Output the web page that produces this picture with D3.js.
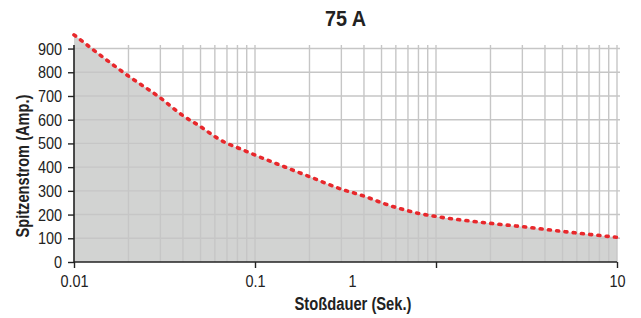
<!DOCTYPE html>
<html>
<head>
<meta charset="utf-8">
<script src="https://cdn.jsdelivr.net/npm/d3@7"></script>
<style>
  body { margin: 0; background: #fff; }
  svg { display: block; }
  text { font-family: "Liberation Sans", Arial, sans-serif; fill: #222; }
  .tick text { font-size: 17px; }
  .axis-title { font-size: 18px; font-weight: bold; }
  .title { font-size: 22px; font-weight: bold; }
</style>
</head>
<body>
<svg id="chart"></svg>
<script>
// pulse duration in seconds and peak current in amps
const duration = [0.01, 0.02, 0.03, 0.04, 0.05, 0.06, 0.07, 0.08, 0.1, 0.2, 0.3, 0.4, 0.5, 0.6, 0.7, 0.8, 1, 2, 3, 5, 10];
const peakCurrent = [958, 784, 692, 617, 571, 529, 500, 482, 451, 360, 307, 278, 250, 230, 216, 205, 192, 163, 149, 129, 104];

const yTicks = [0, 100, 200, 300, 400, 500, 600, 700, 800, 900];
const xTicks = [0.01, 0.1, 1, 10];
const xTickLabels = ["0.01", "0.1", "1", "10"];

const title = "75 A";
const xTitle = "Stoßdauer (Sek.)";
const yTitle = "Spitzenstrom (Amp.)";

const width = 641, height = 318;
const margin = { top: 45, right: 24, bottom: 56, left: 74 };

const svg = d3.select('#chart')
  .attr('width', width)
  .attr('height', height);

const x = d3.scaleLog()
  .domain([0.01, 10])
  .range([margin.left, width - margin.right]);

// top of the domain a little over 900 so the grid pokes above the last line
const y = d3.scaleLinear()
  .domain([0, 915])
  .range([height - margin.bottom, margin.top]);

const points = duration.map((d, i) => ({ x: d, y: peakCurrent[i] }));

// squeeze text horizontally to mimic a condensed face
const condense = (sel, k) => sel.each(function () {
  const w = this.getComputedTextLength();
  d3.select(this).attr('textLength', w * k).attr('lengthAdjust', 'spacingAndGlyphs');
});

// grey area under the curve
const area = d3.area()
  .x(d => x(d.x))
  .y0(y(0))
  .y1(d => y(d.y))
  .curve(d3.curveMonotoneX);

svg.append('path')
  .datum(points)
  .attr('d', area)
  .attr('fill', '#d2d3d2');

// grid on top of the fill
const minorX = [];
for (let dec = 0.01; dec < 10; dec *= 10) {
  for (let k = 1; k <= 9; k++) minorX.push(+(dec * k).toPrecision(3));
}
minorX.push(10);

svg.append('g')
  .selectAll('line')
  .data(minorX.slice(1))
  .enter().append('line')
  .attr('x1', d => x(d))
  .attr('x2', d => x(d))
  .attr('y1', y(0))
  .attr('y2', y(915))
  .attr('stroke', '#c6c6c6')
  .attr('stroke-width', 1.4);

svg.append('g')
  .selectAll('line')
  .data(yTicks.slice(1))
  .enter().append('line')
  .attr('x1', x(0.01))
  .attr('x2', x(10) + 3)
  .attr('y1', d => y(d))
  .attr('y2', d => y(d))
  .attr('stroke', '#c6c6c6')
  .attr('stroke-width', 1.4);

// dashed red curve
const line = d3.line()
  .x(d => x(d.x))
  .y(d => y(d.y))
  .curve(d3.curveMonotoneX);

svg.append('path')
  .datum(points)
  .attr('d', line)
  .attr('fill', 'none')
  .attr('stroke', '#e8282c')
  .attr('stroke-width', 3.6)
  .attr('stroke-linecap', 'round')
  .attr('stroke-dasharray', '2,6.3');

// axes
const yAxis = svg.append('g')
  .attr('transform', `translate(${margin.left},0)`)
  .call(d3.axisLeft(y).tickValues(yTicks).tickSize(6).tickPadding(6).tickFormat(d3.format('d')));

yAxis.select('.domain').attr('d', `M0,${y(0)}V${y(915)}`);

const xAxis = svg.append('g')
  .attr('transform', `translate(0,${y(0)})`)
  .call(d3.axisBottom(x).tickValues(xTicks).tickSize(6).tickPadding(5)
    .tickFormat((d, i) => xTickLabels[i]));

xAxis.select('.domain').attr('d', `M${x(0.01)},0H${x(10)}`);

// the "1" label sits left of its tick in the original
xAxis.selectAll('.tick text')
  .filter(d => d === 1)
  .attr('x', x(0.344) - x(1));

[yAxis, xAxis].forEach(g => {
  g.selectAll('.domain').attr('stroke', '#222').attr('stroke-width', 1.6);
  g.selectAll('.tick line').attr('stroke', '#222').attr('stroke-width', 1.4);
  g.selectAll('.tick text').attr('fill', '#222').call(condense, 0.85);
});
xAxis.selectAll('.tick text').attr('dy', '0.85em');

// titles
svg.append('text')
  .attr('class', 'title')
  .attr('x', (x(0.01) + x(10)) / 2)
  .attr('y', 26)
  .attr('text-anchor', 'middle')
  .attr('textLength', 41)
  .attr('lengthAdjust', 'spacingAndGlyphs')
  .text(title);

svg.append('text')
  .attr('class', 'axis-title')
  .attr('x', 353)
  .attr('y', 310)
  .attr('text-anchor', 'middle')
  .attr('textLength', 117)
  .attr('lengthAdjust', 'spacingAndGlyphs')
  .text(xTitle);

svg.append('text')
  .attr('class', 'axis-title')
  .attr('transform', 'translate(29,166) rotate(-90)')
  .attr('text-anchor', 'middle')
  .attr('textLength', 143)
  .attr('lengthAdjust', 'spacingAndGlyphs')
  .text(yTitle);
</script>
</body>
</html>
